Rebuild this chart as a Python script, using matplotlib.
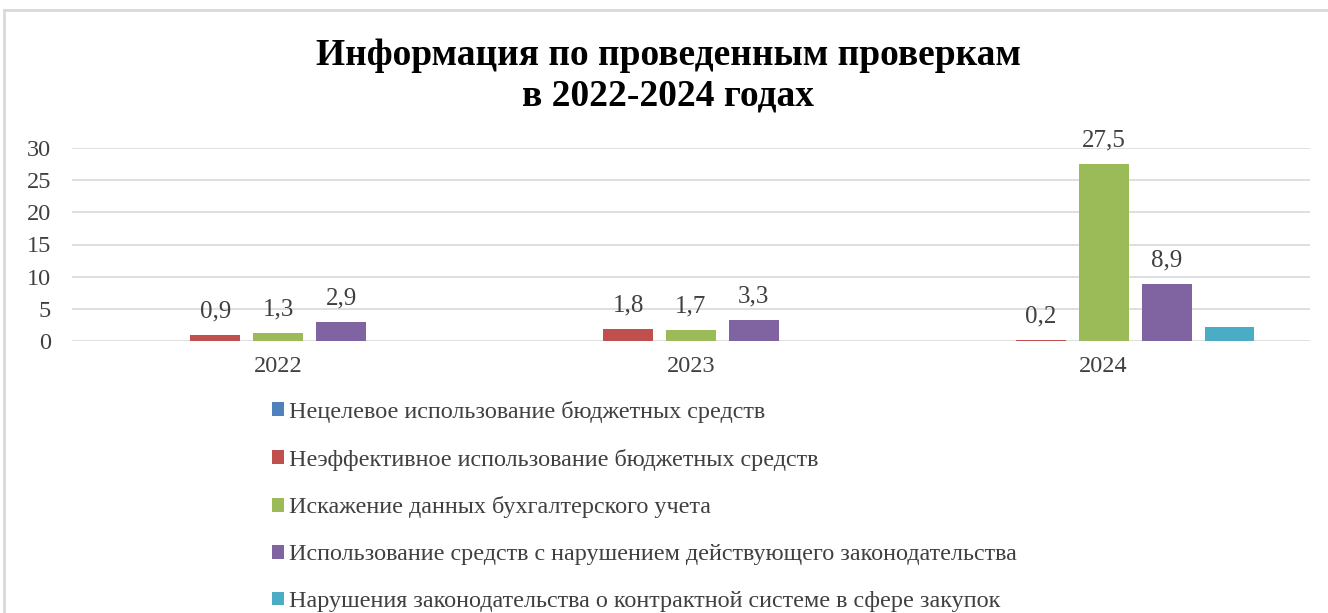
import numpy as np
import matplotlib
matplotlib.use('Agg')
import matplotlib.pyplot as plt
from matplotlib.lines import Line2D

# data
years = ['2022', '2023', '2024']
series_names = [
    'Нецелевое использование бюджетных средств',
    'Неэффективное использование бюджетных средств',
    'Искажение данных бухгалтерского учета',
    'Использование средств с нарушением действующего законодательства',
    'Нарушения законодательства о контрактной системе в сфере закупок',
]
misuse = [0, 0, 0]
inefficient = [0.9, 1.8, 0.2]
distortion = [1.3, 1.7, 27.5]
violation = [2.9, 3.3, 8.9]
procurement = [0, 0, 2.1]
labels_shown = [False, True, True, True, False]
colors = ['#4F81BD', '#C0504D', '#9BBB59', '#8064A2', '#4BACC6']

plt.rcParams['font.family'] = ['Liberation Serif', 'DejaVu Serif']
text_color = '#404040'

W, H = 1328, 613
fig = plt.figure(figsize=(W / 100, H / 100), dpi=100)

# chart border (cut off at right/bottom)
fig.add_artist(Line2D([4 / W, 4 / W], [0, 1 - 10 / H], color='#D9D9D9', lw=2))
fig.add_artist(Line2D([4 / W, 1], [1 - 10 / H, 1 - 10 / H], color='#D9D9D9', lw=2))

ax = fig.add_axes([72 / W, (H - 341) / H, (1310 - 72) / W, 193 / H])

all_series = [misuse, inefficient, distortion, violation, procurement]
x = np.arange(len(years))
step = 0.1525
width = 0.121
for i, vals in enumerate(all_series):
    pos = x + (i - 2) * step
    ax.bar(pos, vals, width=width, color=colors[i], label=series_names[i], zorder=3)
    if labels_shown[i]:
        for p, v in zip(pos, vals):
            ax.annotate(f'{v:.1f}'.replace('.', ','), (p, v), xytext=(0, 9),
                        textcoords='offset points', ha='center', va='bottom',
                        fontsize=18, color=text_color, annotation_clip=False)

ax.set_xlim(-0.5, 2.5)
ax.set_ylim(0, 30)
ax.set_yticks(range(0, 31, 5))
ax.set_xticks(x)
ax.set_xticklabels(years)
ax.grid(axis='y', color='#D9D9D9', lw=1.2, zorder=0)
for s in ax.spines.values():
    s.set_visible(False)
ax.tick_params(length=0, labelsize=17.5, labelcolor=text_color)
ax.tick_params(axis='y', pad=15)
ax.tick_params(axis='x', pad=11)

fig.text(0.503, 1 - 76 / H, 'Информация по проведенным проверкам\nв 2022-2024 годах',
         ha='center', va='center', fontsize=27, fontweight='bold', linespacing=1.22)

leg = fig.legend(loc='upper left', bbox_to_anchor=(262 / W, 1 - 391 / H), frameon=False,
                 fontsize=17.4, labelcolor=text_color, handlelength=0.5, handleheight=0.5,
                 handletextpad=0.22, labelspacing=1.07, borderaxespad=0)

fig.savefig('out.png', dpi=100)
